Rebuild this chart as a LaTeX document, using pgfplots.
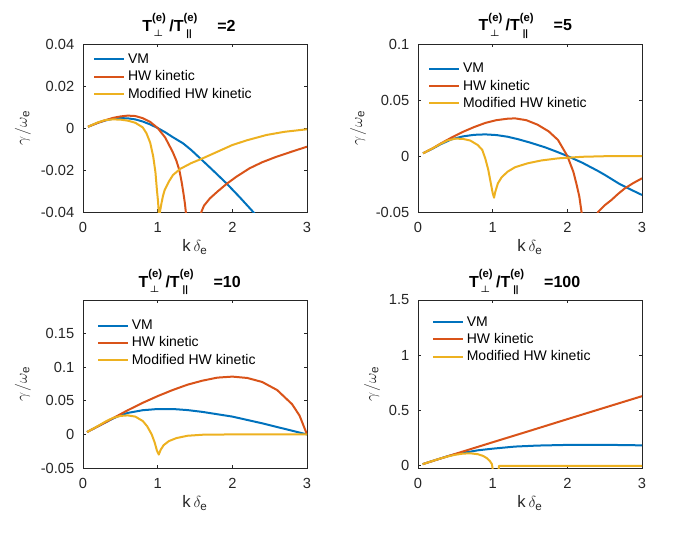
\documentclass[border=0pt]{standalone}
\usepackage{fontspec}
\setmainfont{Liberation Sans}
\usepackage{amsmath}
\usepackage{pgfplots}
\pgfplotsset{compat=1.18}
\definecolor{mblue}{rgb}{0,0.447,0.741}
\definecolor{morange}{rgb}{0.85,0.325,0.098}
\definecolor{myellow}{rgb}{0.929,0.694,0.125}
\definecolor{axgray}{rgb}{0.15,0.15,0.15}
% T with superscript (e) and a subscript stacked below it
\newcommand\TT[2]{T\begingroup\fontsize{8.5}{8.5}\selectfont
  \makebox[0pt][l]{\raisebox{7pt}{(e)}}%
  \makebox[0pt][l]{\hspace{#2}\raisebox{-4pt}{\fontsize{7}{7}\selectfont #1}}%
  \phantom{(e)}\endgroup}
\newcommand\TTitle[1]{\TT{$\boldsymbol{\perp}$}{1.2pt}\hspace{2.5pt}/\TT{||}{2.2pt}\hspace{15pt}=#1}
\tikzset{ttl/.style={anchor=base, inner sep=0pt, font=\bfseries\fontsize{12}{14}\selectfont}}
\pgfplotsset{
 myax/.style={
  scale only axis, width=168pt, height=126pt,
  anchor=south west,
  xmin=0, xmax=3, xtick={0,1,2,3}, xticklabels={0,1,2,3},
  axis line style={axgray, line width=0.5pt},
  tick style={axgray, line width=0.5pt},
  tick align=inside,
  major tick length=2.5pt,
  ticklabel style={font=\fontsize{11}{13}\selectfont, text=axgray},
  xticklabel style={yshift=-4pt},
  yticklabel style={xshift=-3pt},
  label style={font=\fontsize{12.5}{14}\selectfont, text=axgray},
  xlabel={k\,$\delta_{\text{e}}$},
  ylabel={$\gamma\mkern1mu/\mkern1mu\omega_{\text{e}}$},
  xlabel style={at={(axis description cs:0.5,-0.238)}, anchor=base},
  legend style={draw=none, fill=none, anchor=north west,
    font=\fontsize{10.5}{12}\selectfont, row sep=0pt, inner sep=0pt,
    cells={anchor=west}},
  legend image code/.code={\draw[##1] (0pt,0pt) -- (22.5pt,0pt);},
  every axis plot/.append style={line width=1.5pt, line join=round},
  unbounded coords=jump,
  scaled y ticks=false,
 }
}
\begin{document}
\begin{tikzpicture}
\path[use as bounding box] (0,0) rectangle (523.5pt,418.5pt);
% ---------------- top left
\begin{axis}[myax, name=tl, at={(62.25pt,259.5pt)},
  ymin=-0.04, ymax=0.04, ytick={-0.04,-0.02,0,0.02,0.04},
  yticklabels={-0.04,-0.02,0,0.02,0.04},
  ylabel style={at={(axis description cs:-0.25,0.5)}, anchor=base},
  legend style={at={(0.045,0.96)}}]
\addplot[mblue] coordinates {(0.067,0.0006)(0.2,0.0025)(0.3,0.0036)(0.4,0.0044)(0.5,0.0047)(0.6,0.0046)(0.7,0.0041)(0.8,0.0031)(0.9,0.0017)(1.0,0.0)(1.1,-0.0020)(1.2,-0.0043)(1.34,-0.0073)(1.45,-0.0105)(1.58,-0.0148)(1.75,-0.0205)(1.92,-0.0263)(2.1,-0.0330)(2.28,-0.0400)(2.4,-0.045)};
\addplot[morange] coordinates {(0.067,0.0006)(0.2,0.0025)(0.3,0.0037)(0.4,0.0048)(0.5,0.0055)(0.6,0.0059)(0.7,0.0057)(0.8,0.0047)(0.9,0.0029)(1.0,0.0)(1.1,-0.0045)(1.2,-0.0113)(1.25,-0.0155)(1.29,-0.0200)(1.32,-0.0255)(1.345,-0.0310)(1.365,-0.0360)(1.38,-0.0410)(1.40,-0.0500)
 (1.5,nan)
 (1.565,-0.0440)(1.585,-0.0400)(1.62,-0.0370)(1.70,-0.0335)(1.80,-0.0303)(1.92,-0.0267)(2.05,-0.0233)(2.23,-0.0192)(2.4,-0.0163)(2.59,-0.0137)(2.8,-0.0112)(3.0,-0.0089)};
\addplot[myellow] coordinates {(0.067,0.0006)(0.2,0.0027)(0.3,0.0038)(0.4,0.0041)(0.5,0.0040)(0.6,0.0035)(0.7,0.0025)(0.8,0.0003)(0.85,-0.0025)(0.9,-0.0070)(0.94,-0.0135)(0.97,-0.0210)(0.99,-0.0295)(1.005,-0.0350)(1.018,-0.0420)(1.03,-0.0400)(1.05,-0.0360)(1.07,-0.0325)(1.094,-0.0295)(1.15,-0.0255)(1.205,-0.0224)(1.3,-0.0195)(1.45,-0.0167)(1.58,-0.0148)(1.8,-0.0113)(2.0,-0.0081)(2.2,-0.0058)(2.46,-0.0033)(2.7,-0.0018)(3.0,-0.0006)};
\legend{VM,HW kinetic,Modified HW kinetic}
\end{axis}
\node[ttl] at ([xshift=-4.5pt,yshift=9.75pt]tl.north) {\TTitle{2}};
% ---------------- top right
\begin{axis}[myax, name=tr, at={(313.5pt,259.5pt)},
  ymin=-0.05, ymax=0.1, ytick={-0.05,0,0.05,0.1},
  yticklabels={-0.05,0,0.05,0.1},
  ylabel style={at={(axis description cs:-0.25,0.5)}, anchor=base},
  legend style={at={(0.045,0.905)}}]
\addplot[mblue] coordinates {(0.067,0.0024)(0.2,0.0067)(0.3,0.0104)(0.45,0.0149)(0.6,0.0175)(0.75,0.0189)(0.9,0.0193)(1.05,0.0187)(1.2,0.0172)(1.34,0.0150)(1.5,0.0120)(1.7,0.0078)(1.85,0.0040)(2.0,0.0)(2.2,-0.0060)(2.4,-0.0130)(2.5,-0.0168)(2.7,-0.0250)(2.85,-0.0300)(3.0,-0.0348)};
\addplot[morange] coordinates {(0.067,0.0024)(0.2,0.0070)(0.3,0.0110)(0.45,0.0165)(0.6,0.0215)(0.75,0.0258)(0.9,0.0295)(1.05,0.0320)(1.2,0.0333)(1.3,0.0336)(1.45,0.0320)(1.6,0.0280)(1.75,0.0220)(1.875,0.0143)(2.0,0.0)(2.08,-0.0140)(2.12,-0.0244)(2.16,-0.0360)(2.19,-0.0500)(2.21,-0.0580)
 (2.3,nan)
 (2.39,-0.0560)(2.41,-0.0500)(2.5,-0.0440)(2.59,-0.0393)(2.68,-0.0338)(2.77,-0.0289)(2.88,-0.0243)(3.0,-0.0199)};
\addplot[myellow] coordinates {(0.067,0.0024)(0.2,0.0070)(0.3,0.0108)(0.4,0.0140)(0.5,0.0155)(0.6,0.0153)(0.7,0.0138)(0.8,0.0098)(0.86,0.0055)(0.9,-0.0020)(0.94,-0.0120)(0.98,-0.0260)(1.0,-0.0330)(1.018,-0.0372)(1.035,-0.0320)(1.07,-0.0244)(1.12,-0.0190)(1.2,-0.0140)(1.3,-0.0100)(1.47,-0.0065)(1.65,-0.0040)(1.875,-0.0021)(2.2,-0.0007)(2.5,-0.0002)(3.0,0.0)};
\legend{VM,HW kinetic,Modified HW kinetic}
\end{axis}
\node[ttl] at ([xshift=-3.5pt,yshift=9.75pt]tr.north) {\TTitle{5}};
% ---------------- bottom left
\begin{axis}[myax, name=bl, at={(62.25pt,67.5pt)},
  ymin=-0.05, ymax=0.2, ytick={-0.05,0,0.05,0.1,0.15},
  yticklabels={-0.05,0,0.05,0.1,0.15},
  ylabel style={at={(axis description cs:-0.25,0.5)}, anchor=base},
  legend style={at={(0.062,0.90)}}]
\addplot[mblue] coordinates {(0.054,0.0035)(0.2,0.012)(0.4,0.0235)(0.5,0.0285)(0.6,0.032)(0.8,0.036)(1.0,0.0378)(1.2,0.0378)(1.4,0.0362)(1.6,0.0335)(1.8,0.0300)(2.0,0.0265)(2.2,0.0215)(2.4,0.0165)(2.6,0.0110)(2.8,0.0055)(3.0,0.0)};
\addplot[morange] coordinates {(0.054,0.0035)(0.2,0.012)(0.4,0.024)(0.6,0.036)(0.8,0.047)(1.0,0.057)(1.2,0.066)(1.4,0.074)(1.6,0.080)(1.8,0.0845)(2.0,0.086)(2.2,0.084)(2.4,0.078)(2.6,0.066)(2.8,0.045)(2.9,0.028)(3.0,0.0)};
\addplot[myellow] coordinates {(0.054,0.0035)(0.2,0.0125)(0.3,0.019)(0.4,0.0245)(0.5,0.0275)(0.6,0.0283)(0.7,0.0265)(0.8,0.0200)(0.86,0.0120)(0.92,0.0)(0.96,-0.0120)(0.99,-0.0240)(1.015,-0.0300)(1.04,-0.0230)(1.08,-0.0160)(1.15,-0.0100)(1.25,-0.0055)(1.4,-0.0020)(1.6,-0.0005)(2.0,0.0)(3.0,0.0)};
\legend{VM,HW kinetic,Modified HW kinetic}
\end{axis}
\node[ttl] at ([xshift=-4pt,yshift=9.75pt]bl.north) {\TTitle{10}};
% ---------------- bottom right
\begin{axis}[myax, name=br, at={(313.5pt,67.5pt)},
  ymin=-0.02, ymax=1.5, ytick={0,0.5,1,1.5},
  yticklabels={0,0.5,1,1.5},
  ylabel style={at={(axis description cs:-0.1875,0.5)}, anchor=base},
  legend style={at={(0.062,0.92)}}]
\addplot[mblue] coordinates {(0.063,0.015)(0.2,0.045)(0.3,0.066)(0.4,0.087)(0.5,0.105)(0.6,0.118)(0.7,0.128)(0.8,0.140)(1.0,0.155)(1.3,0.174)(1.6,0.183)(2.0,0.189)(2.4,0.190)(2.7,0.188)(3.0,0.185)};
\addplot[morange] coordinates {(0.063,0.015)(0.5,0.108)(1.0,0.213)(1.5,0.317)(2.0,0.422)(2.5,0.526)(3.0,0.630)};
\addplot[myellow] coordinates {(0.063,0.015)(0.2,0.045)(0.3,0.066)(0.4,0.085)(0.5,0.100)(0.6,0.110)(0.7,0.113)(0.8,0.105)(0.87,0.090)(0.92,0.070)(0.96,0.045)(0.99,0.015)(1.0,-0.030)
 (1.04,nan)
 (1.08,-0.030)(1.085,0.0)(3.0,0.0)};
\legend{VM,HW kinetic,Modified HW kinetic}
\end{axis}
\node[ttl] at ([xshift=-4pt,yshift=9.75pt]br.north) {\TTitle{100}};
\end{tikzpicture}
\end{document}
